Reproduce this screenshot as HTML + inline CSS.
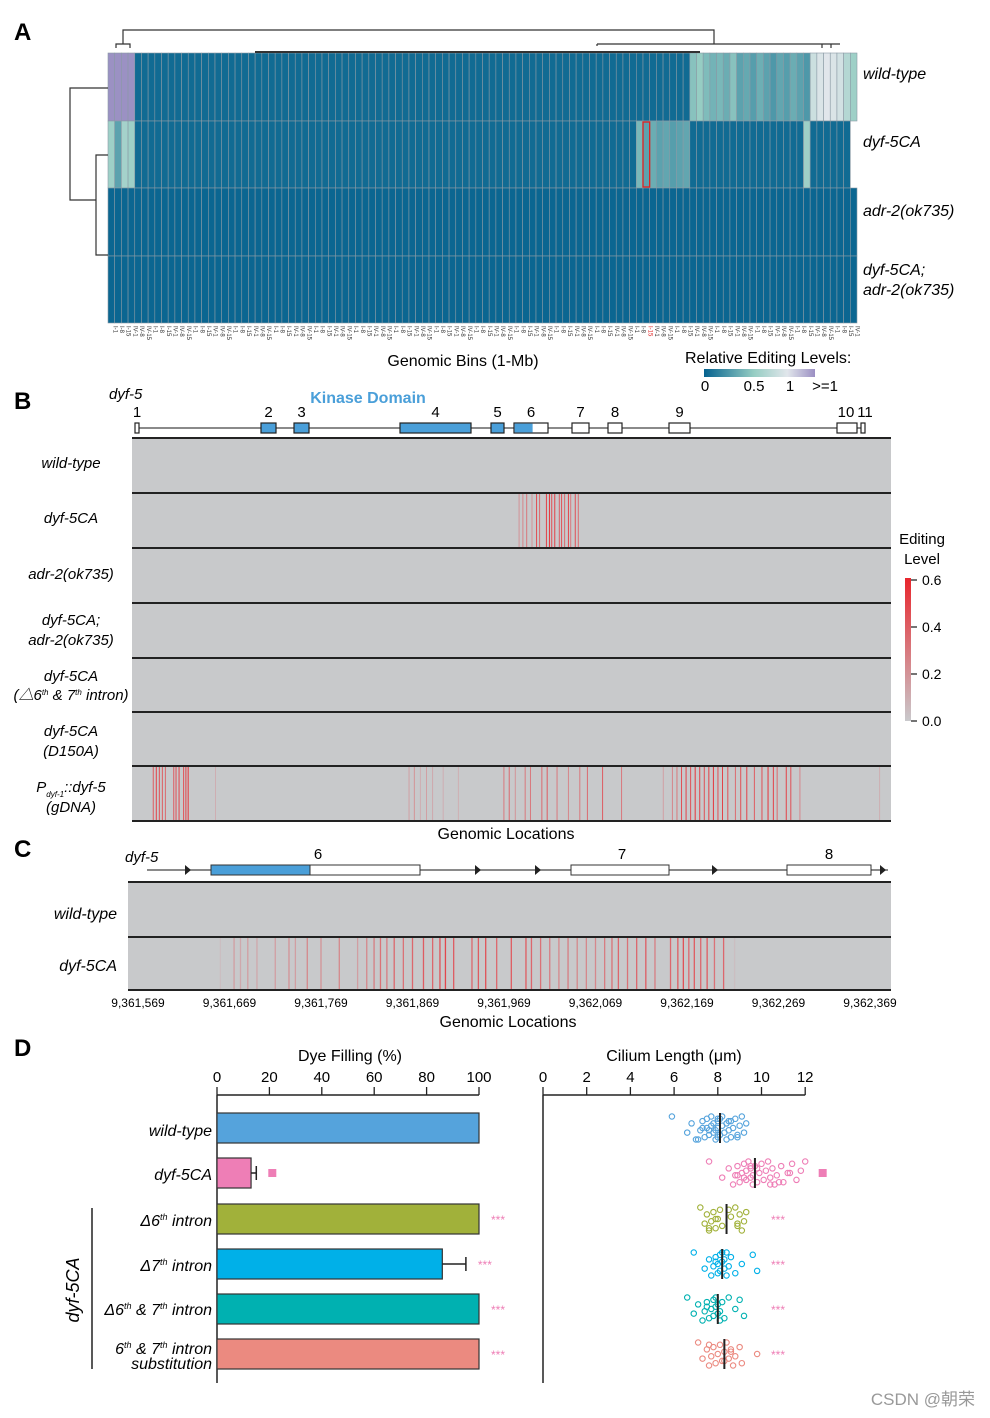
<!DOCTYPE html>
<html><head><meta charset="utf-8">
<style>
html,body{margin:0;padding:0;background:#fff;}
svg{display:block;font-family:"Liberation Sans","Noto Sans CJK SC",sans-serif;}
</style></head>
<body>
<svg id="fig" width="990" height="1418" viewBox="0 0 990 1418" xmlns="http://www.w3.org/2000/svg">
<g id="A">
  <text x="14" y="40" font-size="24" font-weight="bold">A</text>
  <g id="hm"></g>
  <g id="dendro" stroke="#333" fill="none" stroke-width="1.2">
    <path d="M116,48 V44 H130 V48 M123,44 V30 H714 V44 M597,44 V46 M597,44 H831 V48 M822,48 V44 H840"/>
    <path d="M255,52 H700" stroke-width="2"/>
    <path d="M108,88 H70 V200 H96 V155 H108 M96,200 V255 H108 M96,222 V188"/>
  </g>
  <g font-size="16">
    <text x="863" y="79" font-style="italic">wild-type</text>
    <text x="863" y="147" font-style="italic">dyf-5CA</text>
    <text x="863" y="216" font-style="italic">adr-2(ok735)</text>
    <text x="863" y="275" font-style="italic">dyf-5CA;</text>
    <text x="863" y="295" font-style="italic">adr-2(ok735)</text>
  </g>
  <g id="xlabs"></g>
  <text x="463" y="366" font-size="16" text-anchor="middle">Genomic Bins (1-Mb)</text>
  <text x="685" y="363" font-size="16">Relative Editing Levels:</text>
  <defs>
    <linearGradient id="ga" x1="0" x2="1"><stop offset="0" stop-color="#05628f"/><stop offset="0.45" stop-color="#96cdc3"/><stop offset="0.75" stop-color="#e1e6eb"/><stop offset="1" stop-color="#9b8fc3"/></linearGradient>
    <linearGradient id="gb" x1="0" x2="0" y1="0" y2="1"><stop offset="0" stop-color="#e8262d"/><stop offset="1" stop-color="#c9c9cc"/></linearGradient>
  </defs>
  <rect x="704" y="369" width="111" height="8" fill="url(#ga)"/>
  <g font-size="15" text-anchor="middle">
    <text x="705" y="391">0</text>
    <text x="754" y="391">0.5</text>
    <text x="790" y="391">1</text>
    <text x="825" y="391">&gt;=1</text>
  </g>
</g>

<g id="B">
  <text x="14" y="409" font-size="24" font-weight="bold">B</text>
  <text x="109" y="399" font-size="15" font-style="italic">dyf-5</text>
  <text x="368" y="403" font-size="16" font-weight="bold" fill="#4a9fd9" text-anchor="middle">Kinase Domain</text>
  <g id="geneB"></g>
  <g id="rowsB"></g>
  <g font-size="15" font-style="italic" text-anchor="middle">
    <text x="71" y="468">wild-type</text>
    <text x="71" y="523">dyf-5CA</text>
    <text x="71" y="579">adr-2(ok735)</text>
    <text x="71" y="625">dyf-5CA;</text>
    <text x="71" y="645">adr-2(ok735)</text>
    <text x="71" y="681">dyf-5CA</text>
    <text x="71" y="700">(△6<tspan font-size="8" dy="-5">th</tspan><tspan dy="5"> &amp; 7</tspan><tspan font-size="8" dy="-5">th</tspan><tspan dy="5"> intron)</tspan></text>
    <text x="71" y="736">dyf-5CA</text>
    <text x="71" y="756">(D150A)</text>
    <text x="71" y="792">P<tspan font-size="8" dy="5">dyf-1</tspan><tspan dy="-5">::dyf-5</tspan></text>
    <text x="71" y="812">(gDNA)</text>
  </g>
  <text x="506" y="839" font-size="16" text-anchor="middle">Genomic Locations</text>
  <text x="922" y="544" font-size="15" text-anchor="middle">Editing</text>
  <text x="922" y="564" font-size="15" text-anchor="middle">Level</text>
  <rect x="905" y="578" width="6" height="143" fill="url(#gb)"/>
  <path d="M911,580 h6 M911,627 h6 M911,674 h6 M911,721 h6" stroke="#222" stroke-width="1.2"/>
  <g font-size="14">
    <text x="922" y="585">0.6</text>
    <text x="922" y="632">0.4</text>
    <text x="922" y="679">0.2</text>
    <text x="922" y="726">0.0</text>
  </g>
</g>

<g id="C">
  <text x="14" y="857" font-size="24" font-weight="bold">C</text>
  <text x="125" y="862" font-size="15" font-style="italic">dyf-5</text>
  <g id="geneC"></g>
  <g id="rowsC"></g>
  <text x="117" y="919" font-size="16" font-style="italic" text-anchor="end">wild-type</text>
  <text x="117" y="971" font-size="16" font-style="italic" text-anchor="end">dyf-5CA</text>
  <g id="cticks"></g>
  <text x="508" y="1027" font-size="16" text-anchor="middle">Genomic Locations</text>
</g>

<g id="D">
  <text x="14" y="1056" font-size="24" font-weight="bold">D</text>
  <text x="350" y="1061" font-size="16" text-anchor="middle">Dye Filling (%)</text>
  <text x="674" y="1061" font-size="16" text-anchor="middle">Cilium Length (μm)</text>
  <g id="bars"></g>
  <g id="dots"></g>
  <g font-size="16" font-style="italic" text-anchor="end">
    <text x="212" y="1136">wild-type</text>
    <text x="212" y="1180">dyf-5CA</text>
    <text x="212" y="1226">Δ6<tspan font-size="9" dy="-6">th</tspan><tspan dy="6"> intron</tspan></text>
    <text x="212" y="1271">Δ7<tspan font-size="9" dy="-6">th</tspan><tspan dy="6"> intron</tspan></text>
    <text x="212" y="1315">Δ6<tspan font-size="9" dy="-6">th</tspan><tspan dy="6"> &amp; 7</tspan><tspan font-size="9" dy="-6">th</tspan><tspan dy="6"> intron</tspan></text>
    <text x="212" y="1354">6<tspan font-size="9" dy="-6">th</tspan><tspan dy="6"> &amp; 7</tspan><tspan font-size="9" dy="-6">th</tspan><tspan dy="6"> intron</tspan></text>
    <text x="212" y="1369">substitution</text>
  </g>
  <path d="M92,1208 V1369" stroke="#222" stroke-width="1.5"/>
  <text transform="translate(79,1290) rotate(-90)" font-size="18" font-style="italic" text-anchor="middle">dyf-5CA</text>
</g>
<text x="975" y="1405" font-size="17" fill="#999" text-anchor="end">CSDN @朝荣</text>
</svg>
<script>
const NS="http://www.w3.org/2000/svg";
function mk(p,tag,attrs){const e=document.createElementNS(NS,tag);for(const k in attrs)e.setAttribute(k,attrs[k]);p.appendChild(e);return e;}

// ===== Panel A data =====
const nBins=112;
const wtVals=[1.3,1.2,1.3,1.5].concat(Array(83).fill(0.04),[0.45,0.5,0.42,0.38,0.4,0.35,0.45,0.3,0.33,0.28,0.36,0.3,0.25,0.32,0.28,0.35,0.3,0.25],[0.85,0.95,1.0,0.95,0.9,0.7,0.55]);
const dyfVals=[0.55,0.3,0.6,0.55].concat(Array(75).fill(0.04),[0.4,0.3,0.35,0.3,0.32,0.28,0.3,0.32],Array(17).fill(0.04),[0.55],Array(6).fill(0.04));
const adrVals=Array(nBins).fill(0.02);
const dblVals=Array(nBins).fill(0.02);
const hmRows=[wtVals,dyfVals,adrVals,dblVals];
const chroms=["I","II","III","IV","V","X"];
const binLabels=[];for(let i=0;i<nBins;i++){binLabels.push(chroms[(i*5+i%3)%6]+"-"+(1+(i*7)%21));}
const highlightBin=80;

function hmColor(v){
  const stops=[[0,[5,98,143]],[0.5,[150,205,195]],[1,[225,230,235]]];
  if(v>1)return "rgb(155,145,195)";
  for(let i=0;i<stops.length-1;i++){const a=stops[i],b=stops[i+1];if(v<=b[0]){const t=(v-a[0])/(b[0]-a[0]);const c=a[1].map((x,j)=>Math.round(x+(b[1][j]-x)*t));return `rgb(${c})`;}}
  return "rgb(225,230,235)";
}
const hm=document.getElementById("hm");
const hx0=108,hx1=857,hy=[53,121,188,256,323];
const cw=(hx1-hx0)/nBins;
hmRows.forEach((row,r)=>{row.forEach((v,i)=>{
  const c=mk(hm,"rect",{x:hx0+i*cw,y:hy[r],width:cw,height:hy[r+1]-hy[r],fill:hmColor(v),stroke:"#8a9aa5","stroke-width":0.6});
  
  
});});
const hl=mk(hm,"rect",{x:hx0+highlightBin*cw,y:hy[1]+1,width:cw,height:hy[2]-hy[1]-2,fill:"none",stroke:"#e02020","stroke-width":1.3});


const xl=document.getElementById("xlabs");
binLabels.forEach((l,i)=>{
  const t=mk(xl,"text",{transform:`translate(${hx0+i*cw+cw/2+2},326) rotate(90)`,"font-size":6,fill:i===highlightBin?"#e02020":"#333"});
  t.textContent=l;
  
  
});

// ===== Panel B =====
const exonsB=[[135,139,0,"1"],[261,276,1,"2"],[294,309,1,"3"],[400,471,1,"4"],[491,504,1,"5"],[514,548,0.53,"6"],[572,589,0,"7"],[608,622,0,"8"],[669,690,0,"9"],[837,857,0,"10"],[861,865,0,"11"]];
const gB=document.getElementById("geneB");
mk(gB,"line",{x1:135,x2:865,y1:428,y2:428,stroke:"#444","stroke-width":1.2});
exonsB.forEach(e=>{
  const w=e[1]-e[0];
  const r=mk(gB,"rect",{x:e[0],y:423,width:w,height:10,fill:e[2]===1?"#4a9fd9":"#fff",stroke:"#222","stroke-width":1.2});
  
  
  if(e[2]>0&&e[2]<1){mk(gB,"rect",{x:e[0]+0.6,y:423.6,width:w*e[2],height:8.8,fill:"#4a9fd9"});}
  const t=mk(gB,"text",{x:e[3]==="10"?846:e[3]==="11"?865:(e[0]+e[1])/2,y:417,"font-size":15,"text-anchor":"middle"});
  t.textContent=e[3];
  
  
});
const bTracks=[438,493,548,603,658,712,766,821];
const bx0=132,bx1=891;
const dyfSitesB=[[510,0.2],[515,0.25],[520,0.3],[527,0.2],[533,0.45],[537,0.35],[546,0.5],[550,0.55],[553,0.45],[557,0.5],[563,0.4],[566,0.45],[570,0.35],[575,0.5],[578,0.3],[584,0.45],[588,0.35]];
const gdnaSitesB=[[28,0.4],[32,0.5],[36,0.45],[40,0.4],[44,0.35],[55,0.4],[58,0.45],[62,0.5],[68,0.45],[71,0.5],[74,0.55],[110,0.1],[365,0.15],[372,0.2],[380,0.1],[388,0.15],[396,0.12],[410,0.1],[430,0.1],[490,0.3],[497,0.35],[505,0.2],[518,0.3],[525,0.3],[540,0.35],[547,0.4],[560,0.3],[575,0.25],[590,0.3],[600,0.35],[620,0.4],[645,0.3],[700,0.15],[712,0.25],[718,0.3],[724,0.45],[730,0.5],[736,0.45],[742,0.55],[748,0.5],[754,0.45],[760,0.5],[766,0.55],[772,0.45],[778,0.5],[785,0.45],[795,0.35],[802,0.45],[810,0.5],[820,0.4],[830,0.45],[838,0.55],[845,0.5],[850,0.35],[862,0.5],[868,0.45],[880,0.25],[985,0.1]];
const bSites=[[],dyfSitesB,[],[],[],[],gdnaSitesB];
function redCol(v){const t=Math.min(v/0.6,1);const a=[201,201,204],b=[232,38,45];return `rgb(${a.map((x,j)=>Math.round(x+(b[j]-x)*t))})`;}
const rB=document.getElementById("rowsB");
bSites.forEach((sites,r)=>{
  const bg=mk(rB,"rect",{x:bx0,y:bTracks[r],width:bx1-bx0,height:bTracks[r+1]-bTracks[r],fill:"#c8c9cb"});
  
  
  sites.forEach(s=>{
    const x=bx0+s[0]/1000*(bx1-bx0);
    const l=mk(rB,"line",{x1:x,x2:x,y1:bTracks[r]+1,y2:bTracks[r+1]-1,stroke:redCol(s[1]),"stroke-width":1});
    
    
  });
});
bTracks.forEach(y=>mk(rB,"line",{x1:bx0,x2:bx1,y1:y,y2:y,stroke:"#222","stroke-width":2}));

// ===== Panel C =====
const cStart=9361569, cTicks=[9361569,9361669,9361769,9361869,9361969,9362069,9362169,9362269,9362369];
const cSites=[[90,0.05],[105,0.2],[112,0.15],[120,0.2],[130,0.15],[150,0.2],[165,0.25],[172,0.2],[185,0.3],[200,0.25],[220,0.3],[240,0.2],[250,0.3],[258,0.35],[265,0.4],[272,0.35],[280,0.45],[290,0.4],[300,0.45],[312,0.5],[322,0.45],[330,0.55],[336,0.6],[345,0.5],[365,0.45],[372,0.5],[380,0.55],[392,0.45],[408,0.5],[424,0.5],[430,0.45],[440,0.4],[450,0.35],[460,0.3],[470,0.35],[480,0.3],[490,0.3],[500,0.3],[510,0.35],[518,0.4],[525,0.45],[535,0.4],[545,0.45],[555,0.5],[565,0.35],[582,0.45],[590,0.5],[596,0.55],[602,0.45],[608,0.5],[615,0.45],[622,0.5],[630,0.4],[640,0.45],[652,0.05]];
const cTrack=[882,937,990];
const cx=v=>138+(v-cStart)*0.915;
const rC=document.getElementById("rowsC");
[[],cSites].forEach((sites,r)=>{
  const bg=mk(rC,"rect",{x:128,y:cTrack[r],width:763,height:cTrack[r+1]-cTrack[r],fill:"#c8c9cb"});
  
  
  sites.forEach(s=>{
    const x=cx(cStart+s[0]);
    const l=mk(rC,"line",{x1:x,x2:x,y1:cTrack[r]+1,y2:cTrack[r+1]-1,stroke:redCol(s[1]*0.8),"stroke-width":1.3});
    
    
  });
});
cTrack.forEach(y=>mk(rC,"line",{x1:128,x2:891,y1:y,y2:y,stroke:"#222","stroke-width":2}));
const ct=document.getElementById("cticks");
cTicks.forEach(v=>{
  const t=mk(ct,"text",{x:cx(v),y:1007,"font-size":12,"text-anchor":"middle"});
  t.textContent=v.toLocaleString("en-US");
  
  
});
const gC=document.getElementById("geneC");
mk(gC,"line",{x1:147,x2:888,y1:870,y2:870,stroke:"#444","stroke-width":1.2});
[188,478,538,715,883].forEach(x=>mk(gC,"path",{d:`M${x-3},865 L${x+3},870 L${x-3},875 Z`,fill:"#222"}));
[[211,420,99,"6",318],[571,669,0,"7",622],[787,871,0,"8",829]].forEach(e=>{
  const r=mk(gC,"rect",{x:e[0],y:865,width:e[1]-e[0],height:10,fill:"#fff",stroke:"#333","stroke-width":1});
  
  
  if(e[2])mk(gC,"rect",{x:e[0],y:865,width:e[2],height:10,fill:"#4a9fd9",stroke:"#333","stroke-width":1});
  const t=mk(gC,"text",{x:e[4],y:859,"font-size":15,"text-anchor":"middle"});
  t.textContent=e[3];
  
  
});

// ===== Panel D =====
const groups=["wild-type","dyf-5CA","d6","d7","d67","sub"];
const dyeVals=[100,13,100,86,100,100];
const dyeErr=[0,2,0,9,0,0];
const barColors=["#55a3dc","#ee7eb6","#a1b13a","#00b0e8","#00b1b1","#eb8a80"];
const rowCenters=[1128,1173,1219,1264,1309,1354];
const ciliumMeans=[8.1,9.7,8.4,8.2,8.0,8.3];
const ciliumWT=[5.9,6.6,6.8,7.0,7.2,7.3,7.4,7.5,7.5,7.6,7.7,7.7,7.8,7.8,7.9,7.9,8.0,8.0,8.0,8.1,8.1,8.2,8.2,8.3,8.4,8.4,8.5,8.6,8.6,8.7,8.8,8.9,9.0,9.1,9.2,9.3,7.1,7.6,8.5,8.9,7.3,8.0];
const ciliumDyf=[7.6,8.2,8.5,8.7,8.8,8.9,9.0,9.1,9.2,9.3,9.3,9.4,9.5,9.5,9.6,9.6,9.7,9.8,9.9,10.0,10.1,10.2,10.3,10.4,10.5,10.6,10.7,10.9,11.0,11.2,11.4,11.6,11.8,12.0,9.2,9.8,10.4,8.9,9.5,10.8,11.3];
const ciliumD6=[7.2,7.4,7.5,7.6,7.7,7.8,7.9,8.0,8.1,8.2,8.6,8.8,8.9,9.0,9.1,9.2,9.3,7.6,7.9,8.5,8.9];
const ciliumD7=[6.9,7.4,7.6,7.7,7.8,7.9,8.0,8.0,8.1,8.1,8.2,8.2,8.3,8.3,8.4,8.5,8.6,8.8,9.1,9.6,9.8,7.9,8.4];
const ciliumD67=[6.6,6.9,7.1,7.3,7.4,7.5,7.6,7.7,7.8,7.8,7.9,7.9,8.0,8.0,8.1,8.1,8.2,8.3,8.8,9.0,9.2,7.5,8.5];
const ciliumSub=[7.1,7.3,7.5,7.6,7.7,7.8,7.9,8.0,8.1,8.2,8.3,8.4,8.5,8.6,8.7,8.8,9.0,9.1,9.8,7.6,8.3,8.6];
const ciliumData=[ciliumWT,ciliumDyf,ciliumD6,ciliumD7,ciliumD67,ciliumSub];
const dyeTicks=[0,20,40,60,80,100];
const ciliumTicks=[0,2,4,6,8,10,12];
const sigLabels=["","■","***","***","***","***"];

const axisY=1095;
const xDye=v=>217+v*2.62;
const xCil=v=>543+v*21.85;
const bars=document.getElementById("bars");
mk(bars,"line",{x1:xDye(0),x2:xDye(100),y1:axisY,y2:axisY,stroke:"#222","stroke-width":1.5});
mk(bars,"line",{x1:xDye(0),x2:xDye(0),y1:axisY,y2:1383,stroke:"#222","stroke-width":1.5});
dyeTicks.forEach(v=>{
  mk(bars,"line",{x1:xDye(v),x2:xDye(v),y1:axisY-8,y2:axisY,stroke:"#222","stroke-width":1.3});
  const t=mk(bars,"text",{x:xDye(v),y:1082,"font-size":15,"text-anchor":"middle"});
  t.textContent=v;
  
  
});
dyeVals.forEach((v,i)=>{
  const y=rowCenters[i];
  const r=mk(bars,"rect",{x:xDye(0),y:y-15,width:xDye(v)-xDye(0),height:30,fill:barColors[i],stroke:"#333","stroke-width":1.2});
  
  
  if(dyeErr[i]){const xe=xDye(v+dyeErr[i]);mk(bars,"path",{d:`M${xDye(v)},${y} H${xe} M${xe},${y-7} V${y+7}`,stroke:"#222","stroke-width":1.5,fill:"none"});}
  if(i===1){mk(bars,"rect",{x:xDye(v+dyeErr[i])+12,y:y-4,width:8,height:8,fill:"#ee7eb6"});}
  else if(sigLabels[i]){const t=mk(bars,"text",{x:xDye(v+dyeErr[i])+12,y:y+5,"font-size":12,fill:"#ee7eb6"});t.textContent=sigLabels[i];
    
    }
});
const dots=document.getElementById("dots");
mk(dots,"line",{x1:xCil(0),x2:xCil(12),y1:axisY,y2:axisY,stroke:"#222","stroke-width":1.5});
mk(dots,"line",{x1:xCil(0),x2:xCil(0),y1:axisY,y2:1383,stroke:"#222","stroke-width":1.5});
ciliumTicks.forEach(v=>{
  mk(dots,"line",{x1:xCil(v),x2:xCil(v),y1:axisY-8,y2:axisY,stroke:"#222","stroke-width":1.3});
  const t=mk(dots,"text",{x:xCil(v),y:1082,"font-size":15,"text-anchor":"middle"});
  t.textContent=v;
  
  
});
ciliumData.forEach((arr,g)=>{
  const y=rowCenters[g];
  arr.forEach((v,i)=>{
    const dy=((i*7)%11-5)*2.3;
    const c=mk(dots,"circle",{cx:xCil(v),cy:y+dy,r:2.7,fill:"none",stroke:barColors[g],"stroke-width":1.1});
    
    
  });
  const m=xCil(ciliumMeans[g]);
  const ml=mk(dots,"line",{x1:m,x2:m,y1:y-15,y2:y+15,stroke:"#222","stroke-width":2});
  
  
  if(g===1){mk(dots,"rect",{x:xCil(12.8)-4,y:y-4,width:8,height:8,fill:"#ee7eb6"});}
  else if(sigLabels[g]){const t=mk(dots,"text",{x:771,y:y+5,"font-size":12,fill:"#ee7eb6"});t.textContent=sigLabels[g];
    
    }
});
</script>
</body></html>
